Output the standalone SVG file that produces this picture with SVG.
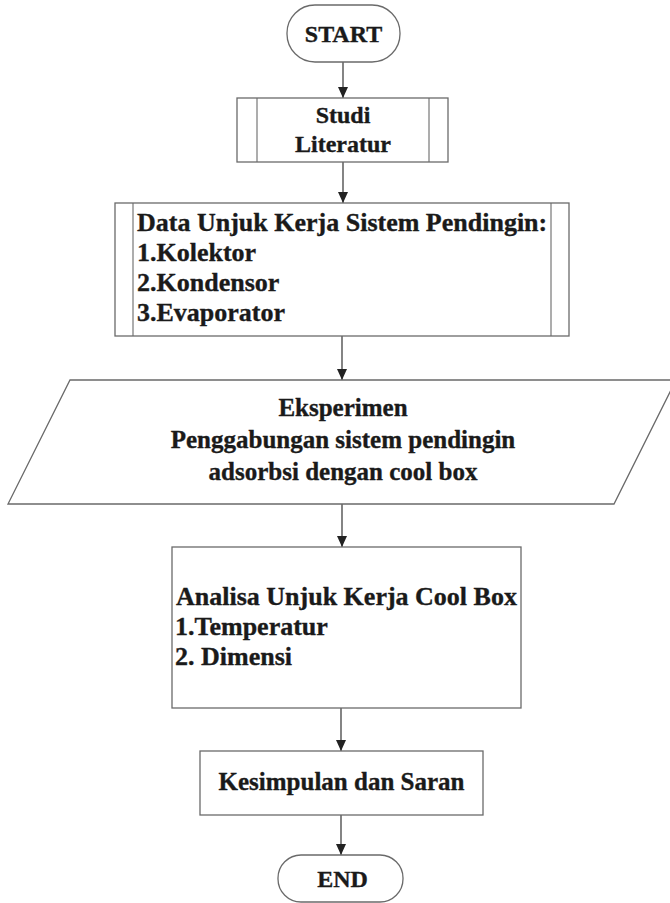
<svg xmlns="http://www.w3.org/2000/svg" width="670" height="903" viewBox="0 0 670 903">
  <style>
    .shape { fill: #ffffff; stroke: #6a6a6a; stroke-width: 1.3; }
    .inner { fill: none; stroke: #6a6a6a; stroke-width: 1.1; }
    .txt { font-family: "Liberation Serif", "Times New Roman", serif; font-weight: bold; font-size: 24px; fill: #1a1a1a; stroke: #1a1a1a; stroke-width: 0.35; }
    .big { font-size: 26px; }
    .med { font-size: 25px; }
    .mid { text-anchor: middle; }
    .conn { stroke: #333333; stroke-width: 1.2; fill: none; marker-end: url(#arrow); }
  </style>
  <defs>
    <marker id="arrow" markerUnits="userSpaceOnUse" markerWidth="11" markerHeight="10" viewBox="0 0 11 10" refX="11" refY="5" orient="auto">
      <path d="M0,0 L11,5 L0,10 Z" fill="#222222"/>
    </marker>
  </defs>
  <rect width="670" height="903" fill="#ffffff"/>

  <g id="connectors">
    <line class="conn" x1="343" y1="62" x2="343" y2="98"/>
    <line class="conn" x1="343" y1="162" x2="343" y2="203"/>
    <line class="conn" x1="342" y1="336" x2="342" y2="380"/>
    <line class="conn" x1="342" y1="504" x2="342" y2="547"/>
    <line class="conn" x1="341" y1="708" x2="341" y2="751"/>
    <line class="conn" x1="341" y1="815" x2="341" y2="855"/>
  </g>

  <g id="start">
    <rect class="shape" x="287" y="5" width="113" height="57" rx="28" ry="28"/>
    <text class="txt mid" x="343.5" y="42">START</text>
  </g>

  <g id="studi-literatur">
    <rect class="shape" x="237" y="98" width="211" height="64"/>
    <line class="inner" x1="257" y1="98" x2="257" y2="162"/>
    <line class="inner" x1="429" y1="98" x2="429" y2="162"/>
    <text class="txt mid" x="343" y="123">Studi</text>
    <text class="txt mid" x="343" y="152">Literatur</text>
  </g>

  <g id="data-unjuk-kerja">
    <rect class="shape" x="115" y="203" width="454" height="133"/>
    <line class="inner" x1="133" y1="203" x2="133" y2="336"/>
    <line class="inner" x1="551" y1="203" x2="551" y2="336"/>
    <text class="txt big" x="137" y="231">Data Unjuk Kerja Sistem Pendingin:</text>
    <text class="txt big" x="137" y="261">1.Kolektor</text>
    <text class="txt big" x="137" y="291">2.Kondensor</text>
    <text class="txt big" x="137" y="321">3.Evaporator</text>
  </g>

  <g id="eksperimen">
    <polygon class="shape" points="70,380 676,380 614,504 8,504"/>
    <text class="txt med mid" x="343" y="416">Eksperimen</text>
    <text class="txt med mid" x="343" y="448">Penggabungan sistem pendingin</text>
    <text class="txt med mid" x="343" y="480">adsorbsi dengan cool box</text>
  </g>

  <g id="analisa">
    <rect class="shape" x="172" y="547" width="349" height="161"/>
    <text class="txt big" x="176" y="605">Analisa Unjuk Kerja Cool Box</text>
    <text class="txt big" x="175" y="635">1.Temperatur</text>
    <text class="txt big" x="175" y="665">2. Dimensi</text>
  </g>

  <g id="kesimpulan">
    <rect class="shape" x="200" y="751" width="283" height="64"/>
    <text class="txt med mid" x="341.5" y="790">Kesimpulan dan Saran</text>
  </g>

  <g id="end">
    <rect class="shape" x="278" y="855" width="125" height="47" rx="23" ry="23"/>
    <text class="txt mid" x="342.5" y="887">END</text>
  </g>
</svg>
